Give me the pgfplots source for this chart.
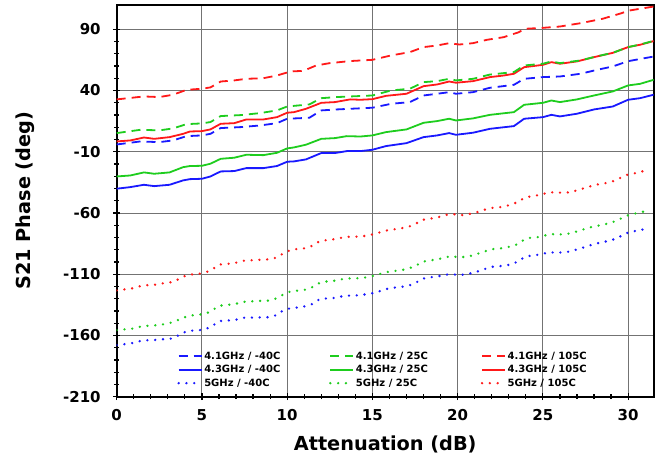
\documentclass[border=0pt]{standalone}
\usepackage{pgfplots}
\pgfplotsset{compat=1.18}
\usepackage{fontspec}
\setmainfont{DejaVu Sans}
\definecolor{cblue}{RGB}{25,25,255}
\definecolor{cgreen}{RGB}{30,205,30}
\definecolor{cred}{RGB}{255,25,25}
\newcommand{\legtxt}[1]{\makebox[124pt][l]{#1}}
\begin{document}
\begin{tikzpicture}
\begin{axis}[
 scale only axis, width=537pt, height=392pt,
 xmin=0, xmax=31.5, ymin=-210, ymax=110,
 xtick={0,5,10,15,20,25,30}, xticklabels={0,5,10,15,20,25,30},
 ytick={-210,-160,-110,-60,-10,40,90}, yticklabels={-210,-160,-110,-60,-10,40,90},
 minor x tick num=4, minor y tick num=4,
 tick align=center, xtick pos=left, ytick pos=left,
 major tick length=7pt, minor tick length=5pt,
 every tick/.style={black, line width=1.2pt},
 grid=major, major grid style={black!55, line width=0.9pt},
 axis line style={line width=1.8pt},
 tick label style={font=\bfseries\fontsize{15}{15}\selectfont},
 xticklabel style={yshift=-6pt}, yticklabel style={xshift=-9pt},
 xlabel={Attenuation (dB)}, ylabel={S21 Phase (deg)},
 xlabel style={font=\bfseries\fontsize{19.3}{19.3}\selectfont, at={(axis description cs:0.5,-0.09)}, anchor=north},
 ylabel style={font=\bfseries\fontsize{19.3}{19.3}\selectfont, at={(axis description cs:-0.147,0.5)}, anchor=south},
 legend columns=3,
 legend cell align=left,
 legend style={draw=none, fill=none, at={(0.107,0.156)}, anchor=north west,
   font=\bfseries\fontsize{10}{10}\selectfont, nodes={inner sep=0.8pt}, row sep=3pt,
   /tikz/every odd column/.append style={column sep=0.5pt}},
 legend image code/.code={\draw[#1] (0pt,0pt) -- (23pt,0pt);},
]
% empty spacer row at the top of the legend
\addlegendimage{empty legend}\addlegendentry{\legtxt{\strut}}
\addlegendimage{empty legend}\addlegendentry{\legtxt{\strut}}
\addlegendimage{empty legend}\addlegendentry{\legtxt{\strut}}
% Legend row 1: 4.1 GHz dashed
\addlegendimage{legend image code/.code={\pgfsetlinewidth{1.8pt}\pgfsetstrokecolor{cblue}\pgfpathmoveto{\pgfpoint{0pt}{0pt}}\pgfpathlineto{\pgfpoint{9pt}{0pt}}\pgfpathmoveto{\pgfpoint{15pt}{0pt}}\pgfpathlineto{\pgfpoint{23pt}{0pt}}\pgfusepath{stroke}}}
\addlegendentry{\legtxt{4.1GHz / -40C}}
\addlegendimage{legend image code/.code={\pgfsetlinewidth{1.8pt}\pgfsetstrokecolor{cgreen}\pgfpathmoveto{\pgfpoint{0pt}{0pt}}\pgfpathlineto{\pgfpoint{9pt}{0pt}}\pgfpathmoveto{\pgfpoint{15pt}{0pt}}\pgfpathlineto{\pgfpoint{23pt}{0pt}}\pgfusepath{stroke}}}
\addlegendentry{\legtxt{4.1GHz / 25C}}
\addlegendimage{legend image code/.code={\pgfsetlinewidth{1.8pt}\pgfsetstrokecolor{cred}\pgfpathmoveto{\pgfpoint{0pt}{0pt}}\pgfpathlineto{\pgfpoint{9pt}{0pt}}\pgfpathmoveto{\pgfpoint{15pt}{0pt}}\pgfpathlineto{\pgfpoint{23pt}{0pt}}\pgfusepath{stroke}}}
\addlegendentry{\legtxt{4.1GHz / 105C}}
% Row 2: 4.3 GHz solid
\addplot[color=cblue, line width=1.8pt] coordinates {(0,-40.2) (0.8,-38.9) (1.6,-37) (2.2,-38.1) (3.1,-37) (3.9,-33.4) (4.3,-32.4) (5,-32.1) (5.5,-30.2) (6.1,-26.1) (6.9,-25.8) (7.6,-23.4) (8.6,-23.4) (9.4,-21.7) (10,-18.2) (10.4,-17.9) (11.1,-16.3) (12,-11.1) (12.8,-11.1) (13.5,-9.5) (14.3,-9.5) (15,-8.4) (15.8,-5.4) (17,-3) (18,1.9) (18.8,3.3) (19.5,5.2) (19.9,3.8) (20.9,5.5) (21.9,8.7) (23.3,10.9) (23.9,16.9) (25,18.2) (25.5,20.1) (26,18.8) (27,21) (28,24.5) (29.1,26.9) (30,32.4) (30.7,33.7) (31.5,36.5)};
\addlegendentry{\legtxt{4.3GHz / -40C}}
\addplot[color=cgreen, line width=1.8pt] coordinates {(0,-30.2) (0.8,-29.4) (1.6,-26.9) (2.2,-28) (3.1,-26.9) (3.9,-22.6) (4.3,-21.7) (5,-21.5) (5.5,-19.8) (6.1,-15.8) (6.9,-14.9) (7.6,-12.5) (8.6,-12.8) (9.4,-10.9) (10,-7.3) (10.4,-6.5) (11.1,-4.3) (12,0.5) (12.8,1.1) (13.5,2.7) (14.3,2.4) (15,3.3) (15.8,6) (17,8.2) (18,13.6) (18.8,15) (19.5,16.9) (19.9,15.5) (20.9,17.2) (21.9,20.1) (23.3,22.3) (23.9,28.3) (25,29.9) (25.5,31.8) (26,30.5) (27,32.7) (28,35.9) (29.1,39.2) (30,44.1) (30.7,45.4) (31.5,48.7)};
\addlegendentry{\legtxt{4.3GHz / 25C}}
\addplot[color=cred, line width=1.8pt] coordinates {(0,-1.6) (0.8,-0.8) (1.6,1.6) (2.2,0.5) (3.1,1.9) (3.9,4.6) (4.3,6.5) (5,6.8) (5.5,8.2) (6.1,12.8) (6.9,13.3) (7.6,16.3) (8.6,16.3) (9.4,18.2) (10,21.8) (10.4,22.3) (11.1,25) (12,29.9) (12.8,30.5) (13.7,32.7) (14.3,32.4) (15,32.9) (15.8,35.6) (17,37.3) (18,43.5) (18.8,44.9) (19.5,47.3) (19.9,46.3) (20.9,47.6) (21.9,50.9) (22.7,52.2) (23.3,53.6) (23.9,59) (25,60.9) (25.5,63.1) (26,61.8) (27,63.7) (28,67.2) (29.1,70.7) (30,75.4) (30.7,77.3) (31.5,80.3)};
\addlegendentry{\legtxt{4.3GHz / 105C}}
% Row 3: 5 GHz dotted
\addplot[color=cblue, line width=2.6pt, line cap=round, dash pattern=on 0pt off 7.8pt] coordinates {(0,-167.9) (0.5,-167.1) (1,-166) (1.5,-164.1) (2.4,-163.6) (2.9,-162.8) (3.3,-162.5) (3.8,-158.4) (4.2,-156.2) (4.7,-156) (5.2,-154.9) (5.6,-152.4) (6,-148.3) (6.5,-147.8) (6.9,-147.5) (7.4,-145.6) (8.3,-145.3) (8.8,-145.3) (9.3,-143.7) (9.7,-140.2) (10.2,-137.6) (10.6,-137.2) (11.1,-136.1) (11.5,-134.2) (11.9,-130.4) (12.4,-129.6) (12.9,-129.3) (13.3,-127.7) (13.8,-127.4) (14.2,-127.2) (14.7,-126.3) (15.2,-125) (15.7,-122.5) (16.1,-121.2) (16.6,-120.6) (17.1,-119.5) (17.5,-117.4) (17.9,-113.8) (18.4,-112.5) (18.8,-111.9) (19.3,-110.3) (19.8,-110.3) (20.2,-110.6) (20.7,-109.5) (21.1,-108.1) (21.6,-105.7) (22,-104) (22.6,-103.2) (23,-102.4) (23.5,-100) (23.9,-96.2) (24.3,-94.8) (24.8,-94) (25.3,-92.4) (25.8,-92.1) (26.2,-92.4) (26.7,-91) (27.1,-89.4) (27.6,-87.2) (28,-85.3) (28.5,-83.9) (29,-82.3) (29.4,-80.4) (29.8,-76.9) (30.3,-75) (30.7,-74.1) (31.2,-72.2)};
\addlegendentry{\legtxt{5GHz / -40C}}
\addplot[color=cgreen, line width=2.6pt, line cap=round, dash pattern=on 0pt off 7.8pt] coordinates {(0,-155.7) (1,-154.3) (1.5,-152.4) (2.4,-151.6) (2.9,-150.5) (3.3,-149.2) (3.8,-146.2) (4.2,-144) (4.7,-143.2) (5.2,-142.4) (5.6,-139.6) (6,-135.8) (6.5,-135) (6.9,-134.5) (7.4,-132.6) (8.3,-131.8) (8.8,-131.8) (9.3,-130.1) (9.7,-127.1) (10.2,-124) (10.6,-123.4) (11.1,-122.6) (11.5,-120.4) (11.9,-117.1) (12.4,-115.7) (12.9,-115.2) (13.3,-113.8) (13.8,-113.3) (14.2,-113.3) (14.7,-112.5) (15.2,-110.8) (15.7,-108.7) (16.1,-107.6) (16.6,-107) (17.1,-105.4) (17.5,-103.5) (17.9,-100) (18.4,-98.6) (18.8,-98.1) (19.3,-95.9) (19.8,-95.7) (20.2,-96.2) (20.7,-95.3) (21.1,-93.7) (21.6,-91.3) (22,-89.6) (22.6,-88.8) (23,-87.7) (23.5,-85.6) (23.9,-81.8) (24.3,-80.1) (24.8,-79.6) (25.3,-77.7) (25.8,-77.1) (26.2,-77.7) (26.7,-76.3) (27.1,-74.7) (27.6,-72.5) (28,-70.9) (28.5,-69.8) (29,-67.9) (29.4,-66) (29.8,-62.7) (30.3,-60.8) (30.7,-59.5) (31.2,-58.1)};
\addlegendentry{\legtxt{5GHz / 25C}}
\addplot[color=cred, line width=2.6pt, line cap=round, dash pattern=on 0pt off 7.8pt] coordinates {(0,-123.3) (1,-121.4) (1.5,-119.2) (2.4,-118.4) (2.9,-116.8) (3.3,-116.5) (3.8,-112.7) (4.2,-110.3) (4.7,-110) (5.2,-108.6) (5.6,-106.2) (6,-102.1) (6.5,-101.6) (6.9,-101) (7.4,-99.1) (8.3,-98.3) (8.8,-98) (9.3,-96.7) (9.7,-93.7) (10.2,-90.2) (10.6,-89.4) (11.1,-88.8) (11.5,-86.6) (11.9,-83.1) (12.4,-82) (12.9,-81.2) (13.3,-79.8) (13.8,-79.3) (14.2,-79.3) (14.7,-78.5) (15.2,-76.9) (15.7,-74.7) (16.1,-73.6) (16.6,-72.8) (17.1,-71.4) (17.5,-69.2) (17.9,-65.7) (18.4,-64.6) (18.8,-63.8) (19.3,-61.6) (19.8,-61.1) (20.2,-61.9) (20.7,-60.8) (21.1,-59.5) (21.6,-57.3) (22,-55.9) (22.6,-55.1) (23,-53.7) (23.5,-51.3) (23.9,-47.8) (24.3,-46.4) (24.8,-45.3) (25.3,-43.4) (25.8,-43.1) (26.2,-43.7) (26.7,-42.9) (27.1,-41) (27.6,-39.1) (28,-37.2) (28.5,-36.1) (29,-34.7) (29.4,-32.5) (29.8,-29.3) (30.3,-27.9) (30.7,-26.6) (31.2,-24.7)};
\addlegendentry{\legtxt{5GHz / 105C}}
% 4.1 GHz dashed curves (legend entries given above)
\addplot[forget plot, color=cblue, line width=1.8pt, dash pattern=on 9pt off 6pt] coordinates {(0,-4.1) (1.4,-1.6) (2.5,-2.2) (3.3,-0.8) (4.1,2.7) (5,3.3) (5.5,4.6) (6.1,9.3) (7.3,10.1) (8.4,11.4) (9.4,13.3) (10,16.9) (11.3,17.7) (12,23.7) (12.9,24.5) (15,25.9) (16.1,29.1) (17.2,30.5) (18,35.9) (18.8,37.3) (19.5,38.6) (19.9,37.3) (20.9,38.6) (21.9,42.2) (23.3,44.6) (23.9,49.5) (25,50.9) (26,51.4) (27.2,53.6) (28.2,56.9) (29.1,59.6) (30,63.9) (31.5,67.7)};
\addplot[forget plot, color=cgreen, line width=1.8pt, dash pattern=on 9pt off 6pt] coordinates {(0,5.2) (1.4,7.9) (2.5,7.4) (3.3,9) (4.1,12.5) (5,13.1) (5.5,14.2) (6.1,19.1) (7.3,19.9) (8.4,21.5) (9.4,23.7) (10,26.9) (11.3,28.6) (12,33.7) (12.9,34.6) (15,35.9) (16.1,40) (17.2,41.4) (18,46.8) (18.8,47.6) (19.5,49.5) (19.9,48.2) (20.9,49.5) (21.9,53) (23.3,55) (23.9,60.4) (25,61.8) (25.5,63.7) (26,62.3) (27.2,64.5) (28.2,68) (29.1,70.7) (30,75.4) (30.7,77.5) (31.5,80.5)};
\addplot[forget plot, color=cred, line width=1.8pt, dash pattern=on 9pt off 6pt] coordinates {(0,32.7) (1.6,35.1) (2.5,34.6) (3.3,36.5) (4.1,40.5) (5,41.4) (5.5,42.5) (6.1,47.3) (6.9,48.2) (7.6,49.5) (8.6,50) (9.4,52.2) (10.2,55.5) (10.95,56) (11.7,60.4) (12.5,62.3) (13.7,64) (15,65) (16.1,68.6) (17.2,71.3) (18,75.4) (18.8,76.7) (19.5,78.6) (20.1,77.5) (20.9,78.6) (21.7,81.3) (22.7,83.5) (23.6,87.6) (23.9,90.3) (25,91.1) (26,92.2) (27.2,94.9) (28.5,98.5) (29.5,102.6) (30.1,105.3) (31.5,108.5)};
\end{axis}
\pgfresetboundingbox
\path (current axis.south west) ++(-116.7pt,-62.3pt) rectangle ++(662pt,459pt);
\end{tikzpicture}
\end{document}
